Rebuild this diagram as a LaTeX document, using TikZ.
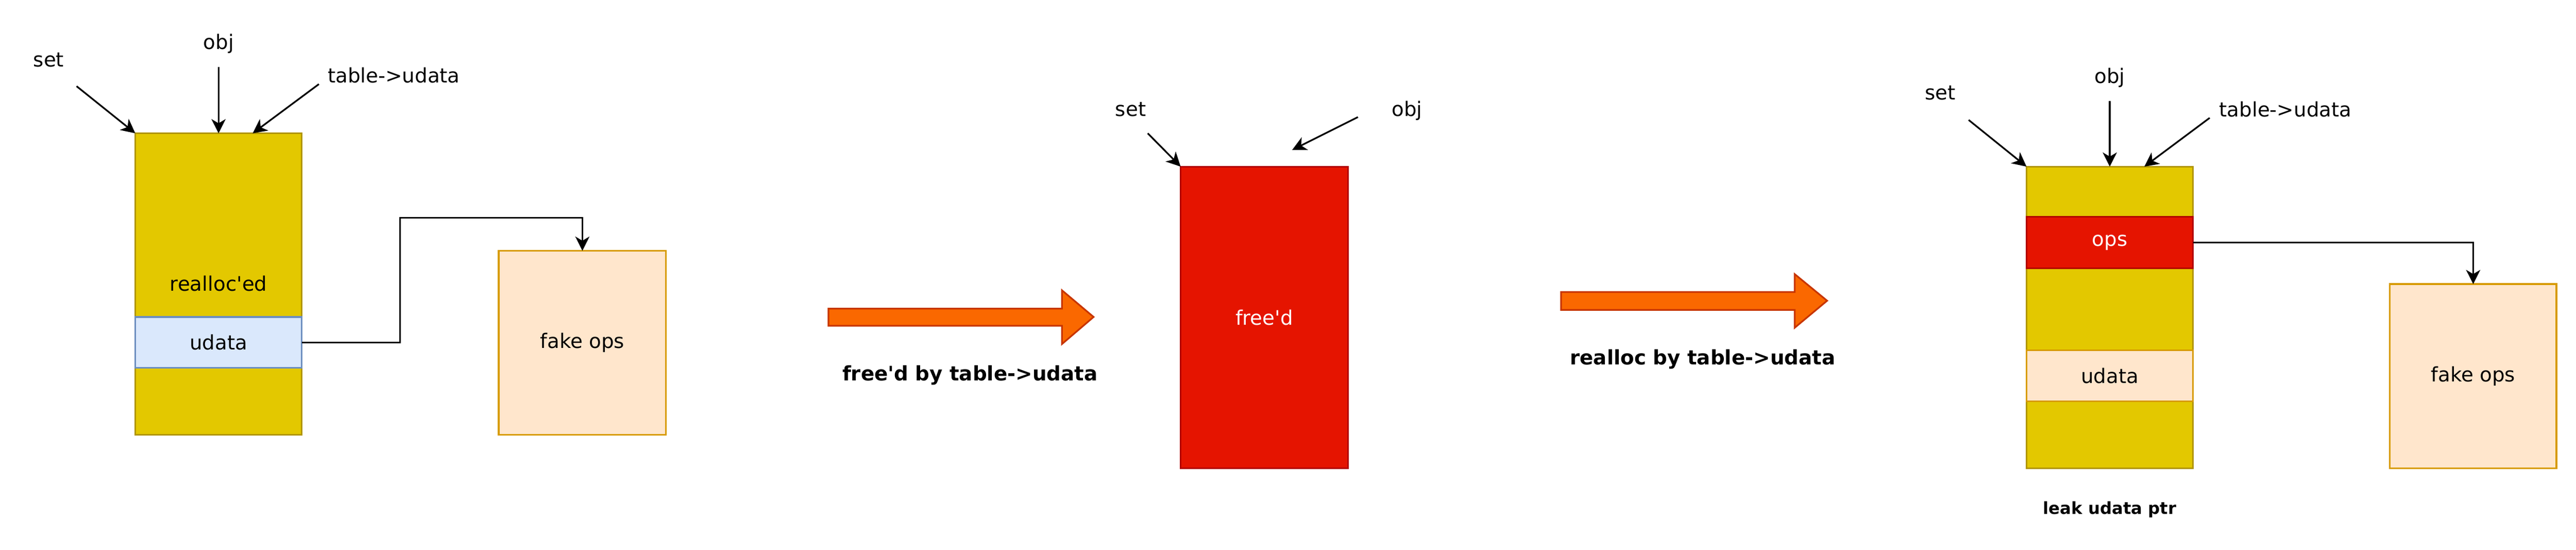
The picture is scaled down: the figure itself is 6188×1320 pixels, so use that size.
\documentclass[tikz,border=0pt]{standalone}
\usepackage{fontspec}
\setmainfont{DejaVu Sans}
\usetikzlibrary{arrows.meta}
\definecolor{ylwF}{HTML}{E3C800}
\definecolor{ylwS}{HTML}{B09500}
\definecolor{bluF}{HTML}{DAE8FC}
\definecolor{bluS}{HTML}{6C8EBF}
\definecolor{pchF}{HTML}{FFE6CC}
\definecolor{pchS}{HTML}{D79B00}
\definecolor{redF}{HTML}{E51400}
\definecolor{redS}{HTML}{B20000}
\definecolor{orgF}{HTML}{FA6800}
\definecolor{orgS}{HTML}{C73500}
\tikzset{
  blk/.style={rectangle, inner sep=0pt, outer sep=0pt, line width=1pt, anchor=north west, font=\fontsize{12}{14}\selectfont},
  yblk/.style={blk, fill=ylwF, draw=ylwS},
  bblk/.style={blk, fill=bluF, draw=bluS},
  pblk/.style={blk, fill=pchF, draw=pchS},
  rblk/.style={blk, fill=redF, draw=redS, text=white},
  lbl/.style={inner sep=0pt, font=\fontsize{12}{14}\selectfont},
  blbl/.style={inner sep=0pt, font=\fontsize{12}{14}\selectfont\bfseries},
  ptr/.style={line width=1pt, -{Stealth[length=8.5pt, width=8.5pt, inset=2.5pt]}},
  barrow/.style={line width=1pt, fill=orgF, draw=orgS},
}
\begin{document}
\begin{tikzpicture}[x=0.25pt, y=-0.25pt]
\useasboundingbox (0,0) rectangle (6188,1320);

% ---------- panel 1 ----------
\node[yblk, minimum width=100pt, minimum height=181pt] (mem1) at (325,320) {};
\node[lbl] (realloced) at (525,681) {realloc\textquotesingle ed};
\node[bblk, minimum width=100pt, minimum height=30.5pt] (ud1) at (325,761) {};
\node[lbl] at (ud1.center) {udata};
\node[pblk, minimum width=100.5pt, minimum height=110.5pt] (fake1) at (1198,602) {};
\node[lbl] at (fake1.center) {fake ops};

\node[lbl] (set1) at (117,144) {set};
\node[lbl] (obj1) at (525,105) {obj};
\node[lbl] (tbl1) at (946,181) {table->udata};

\coordinate (s1a) at (184,207);
\coordinate (o1a) at (525,161);
\coordinate (t1a) at (766,202);
\coordinate (t1b) at (607,320);
\draw[ptr] (s1a) -- (mem1.north west);
\draw[ptr] (o1a) -- (mem1.north);
\draw[ptr] (t1a) -- (t1b);
\coordinate (c1a) at (961,523);
\draw[ptr] (ud1.east) -| (c1a) -| (fake1.north);

% ---------- transition 1 ----------
\draw[barrow] (1990,741) -- (2551,741) -- (2551,697) -- (2627,761) -- (2551,826) -- (2551,782) -- (1990,782) -- cycle;
\node[blbl] (freedby) at (2330,901) {free\textquotesingle d by table->udata};

% ---------- panel 2 ----------
\node[rblk, minimum width=100.5pt, minimum height=181pt] (mem2) at (2836,400) {};
\node[lbl, text=white] at (mem2.center) {free\textquotesingle d};
\node[lbl] (set2) at (2716,262) {set};
\node[lbl] (obj2) at (3380,266) {obj};
\coordinate (s2a) at (2757,320);
\coordinate (o2a) at (3262,281);
\coordinate (o2b) at (3104,360);
\draw[ptr] (s2a) -- (mem2.north west);
\draw[ptr] (o2a) -- (o2b);

% ---------- transition 2 ----------
\draw[barrow] (3750,701) -- (4311,701) -- (4311,658) -- (4389,722) -- (4311,787) -- (4311,744) -- (3750,744) -- cycle;
\node[blbl] (reallocby) at (4090,862) {realloc by table->udata};

% ---------- panel 3 ----------
\node[yblk, minimum width=100pt, minimum height=181pt] (mem3) at (4868,400) {};
\node[rblk, minimum width=100pt, minimum height=31pt] (ops3) at (4868,520) {};
\node[lbl, text=white] at (ops3.center) {ops};
\node[pblk, minimum width=100pt, minimum height=30.5pt] (ud3) at (4868,841) {};
\node[lbl] at (ud3.center) {udata};
\node[pblk, minimum width=100pt, minimum height=110.5pt] (fake3) at (5741,682) {};
\node[lbl] at (fake3.center) {fake ops};
\node[blbl, font=\fontsize{10}{12}\selectfont\bfseries] (leak) at (5068,1224) {leak udata ptr};

\node[lbl] (set3) at (4661,223) {set};
\node[lbl] (obj3) at (5068,186) {obj};
\node[lbl] (tbl3) at (5490,263) {table->udata};
\coordinate (s3a) at (4729,288);
\coordinate (o3a) at (5068,242);
\coordinate (t3a) at (5308,283);
\coordinate (t3b) at (5151,400);
\draw[ptr] (s3a) -- (mem3.north west);
\draw[ptr] (o3a) -- (mem3.north);
\draw[ptr] (t3a) -- (t3b);
\draw[ptr] (ops3.east) -| (fake3.north);
\end{tikzpicture}
\end{document}
